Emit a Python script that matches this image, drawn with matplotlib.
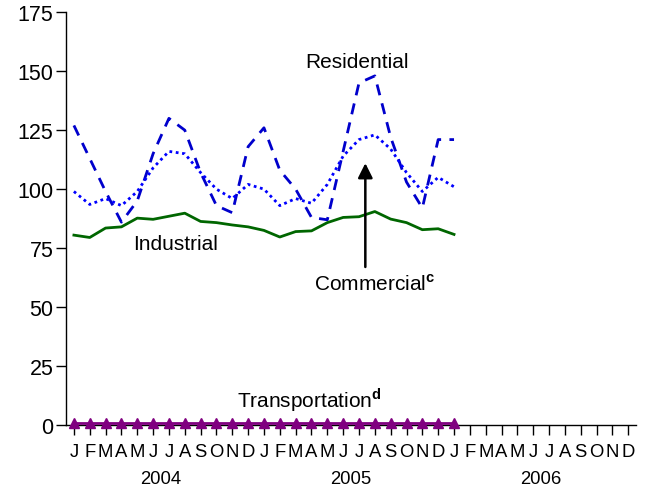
import matplotlib.pyplot as plt
import numpy as np

plt.rcParams['font.family'] = ['Liberation Sans', 'DejaVu Sans']
plt.rcParams['mathtext.fontset'] = 'custom'
plt.rcParams['mathtext.bf'] = 'Liberation Sans:bold'
plt.rcParams['mathtext.rm'] = 'Liberation Sans'

# monthly values, Jan 2004 - Jan 2006
residential = [127, 113, 99, 86, 95, 115, 130, 125, 107, 93, 90, 118, 126,
               108, 100, 88, 87, 116, 145, 148, 122, 103, 92, 121, 121]
commercial = [99, 93.5, 96, 93, 99, 109, 116, 115, 107, 100, 96, 102, 100,
              93, 96, 94, 102, 114, 121, 123, 117, 107, 99, 105, 101]
industrial = [80.5, 79.5, 83.5, 84, 87.7, 87.2, 88.5, 89.8, 86.3, 85.8, 84.8, 84, 82.5,
              79.7, 82, 82.3, 85.8, 88, 88.3, 90.5, 87.3, 85.8, 82.8, 83.2, 80.8]
transportation = [1] * 25

month_labels = ['J', 'F', 'M', 'A', 'M', 'J', 'J', 'A', 'S', 'O', 'N', 'D'] * 3
years = ['2004', '2005', '2006']

x = np.arange(len(residential))

fig = plt.figure(figsize=(6.45, 4.89), dpi=100)
ax = fig.add_axes([0.1023, 0.1288, 0.884, 0.8442])

ax.plot(x, residential, color='#0000CC', lw=2, linestyle=(0, (4, 3)))
ax.plot(x, commercial, color='#0000FF', lw=2, linestyle=(0, (1, 1.3)))
ax.plot(x, industrial, color='#006600', lw=2)
ax.plot(x, transportation, color='#800080', lw=2, marker='^', markersize=7.5,
        markerfacecolor='#800080', markeredgecolor='#800080', clip_on=False, zorder=5)

ax.set_xlim(-0.5, 35.5)
ax.set_ylim(0, 175)
ax.set_yticks(np.arange(0, 176, 25))
ax.set_xticks(np.arange(36))
ax.set_xticklabels(month_labels)
ax.tick_params(axis='y', labelsize=15.5, length=7, width=1, direction='out', pad=2)
ax.tick_params(axis='x', labelsize=13.3, length=7, width=1, direction='out', pad=6)

for s in ['top', 'right']:
    ax.spines[s].set_visible(False)
ax.spines['left'].set_linewidth(1)
ax.spines['bottom'].set_linewidth(1)

for i, yr in enumerate(years):
    ax.text(5.5 + 12 * i, -0.13, yr, transform=ax.get_xaxis_transform(),
            ha='center', va='center', fontsize=13.3)

ax.text(17.9, 154, 'Residential', ha='center', va='center', fontsize=15)
ax.text(6.4, 77, 'Industrial', ha='center', va='center', fontsize=15)
ax.text(19, 60, r'Commercial$^{\mathbf{c}}$', ha='center', va='center', fontsize=15)
ax.text(14.9, 10.8, r'Transportation$^{\mathbf{d}}$', ha='center', va='center', fontsize=15)

ax.annotate('', xy=(18.4, 111), xytext=(18.4, 67),
            arrowprops=dict(arrowstyle='-|>', color='black', lw=1.8, mutation_scale=22,
                            shrinkA=0, shrinkB=0))

fig.savefig('out.png', dpi=100)
